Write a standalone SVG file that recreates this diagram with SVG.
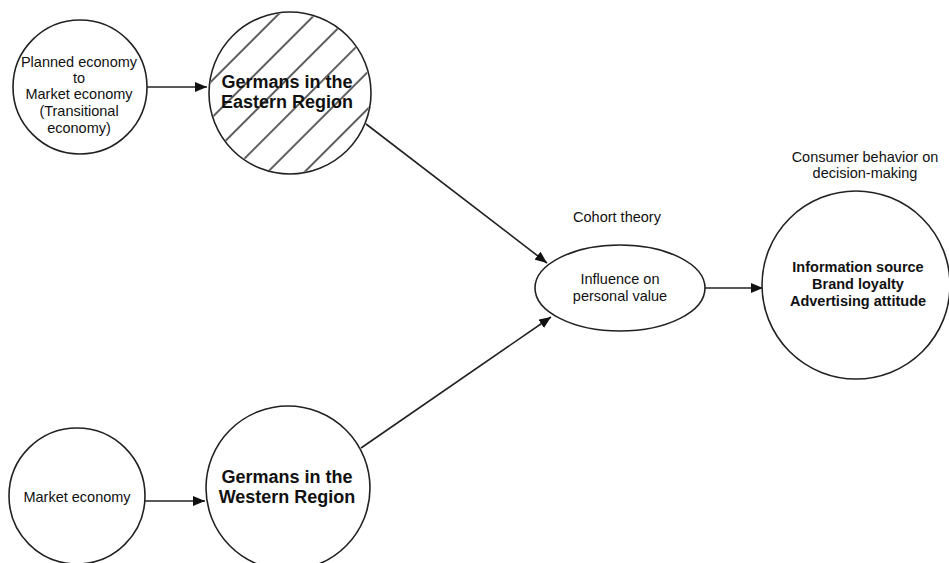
<svg xmlns="http://www.w3.org/2000/svg" width="949" height="563" viewBox="0 0 949 563">
<style>
.shape{fill:#fff;stroke:#222;stroke-width:1.6}
.t{font-family:"Liberation Sans",Arial,sans-serif;fill:#111;text-anchor:middle}
.s{font-size:14.5px}
.b{font-size:18px;font-weight:bold}
.m{font-size:14.5px;font-weight:bold}
.conn line{stroke:#222;stroke-width:1.6}
</style>
<defs>
<marker id="ah" viewBox="0 0 12 10" refX="12" refY="5" markerWidth="12" markerHeight="10" markerUnits="userSpaceOnUse" orient="auto">
<path d="M0,0 L12,5 L0,10 Z" fill="#111"/>
</marker>
<pattern id="hatch" patternUnits="userSpaceOnUse" width="26" height="10" patternTransform="rotate(45)">
<line x1="25" y1="-5" x2="25" y2="15" stroke="#1a1a1a" stroke-width="1.4"/>
</pattern>
</defs>
<rect width="949" height="563" fill="#fff"/>
<g class="conn">
<line x1="147" y1="87" x2="207" y2="87" marker-end="url(#ah)"/>
<line x1="145" y1="501" x2="205" y2="501" marker-end="url(#ah)"/>
<line x1="366" y1="124" x2="547" y2="263" marker-end="url(#ah)"/>
<line x1="361" y1="448" x2="551" y2="317" marker-end="url(#ah)"/>
<line x1="705" y1="288" x2="763" y2="288" marker-end="url(#ah)"/>
</g>
<g id="planned">
<circle class="shape" cx="80" cy="87" r="67"/>
<text class="t s" x="79" y="67">Planned economy</text>
<text class="t s" x="79" y="83">to</text>
<text class="t s" x="79" y="99">Market economy</text>
<text class="t s" x="79" y="116">(Transitional</text>
<text class="t s" x="79" y="133">economy)</text>
</g>
<g id="eastern">
<circle class="shape" cx="290" cy="93" r="81"/>
<circle cx="290" cy="93" r="80" fill="url(#hatch)"/>
<text class="t b" x="287" y="88">Germans in the</text>
<text class="t b" x="287" y="108">Eastern Region</text>
</g>
<g id="market">
<circle class="shape" cx="77" cy="496" r="68"/>
<text class="t s" x="77" y="502">Market economy</text>
</g>
<g id="western">
<circle class="shape" cx="288" cy="488" r="82"/>
<text class="t b" x="287" y="483">Germans in the</text>
<text class="t b" x="287" y="503">Western Region</text>
</g>
<g id="cohort">
<ellipse class="shape" cx="620" cy="288" rx="85" ry="43"/>
<text class="t s" x="617" y="222">Cohort theory</text>
<text class="t s" x="620" y="284">Influence on</text>
<text class="t s" x="620" y="301">personal value</text>
</g>
<g id="consumer">
<circle class="shape" cx="856" cy="285" r="94"/>
<text class="t s" x="865" y="162">Consumer behavior on</text>
<text class="t s" x="865" y="178">decision-making</text>
<text class="t m" x="858" y="272">Information source</text>
<text class="t m" x="858" y="289">Brand loyalty</text>
<text class="t m" x="858" y="306">Advertising attitude</text>
</g>
</svg>
